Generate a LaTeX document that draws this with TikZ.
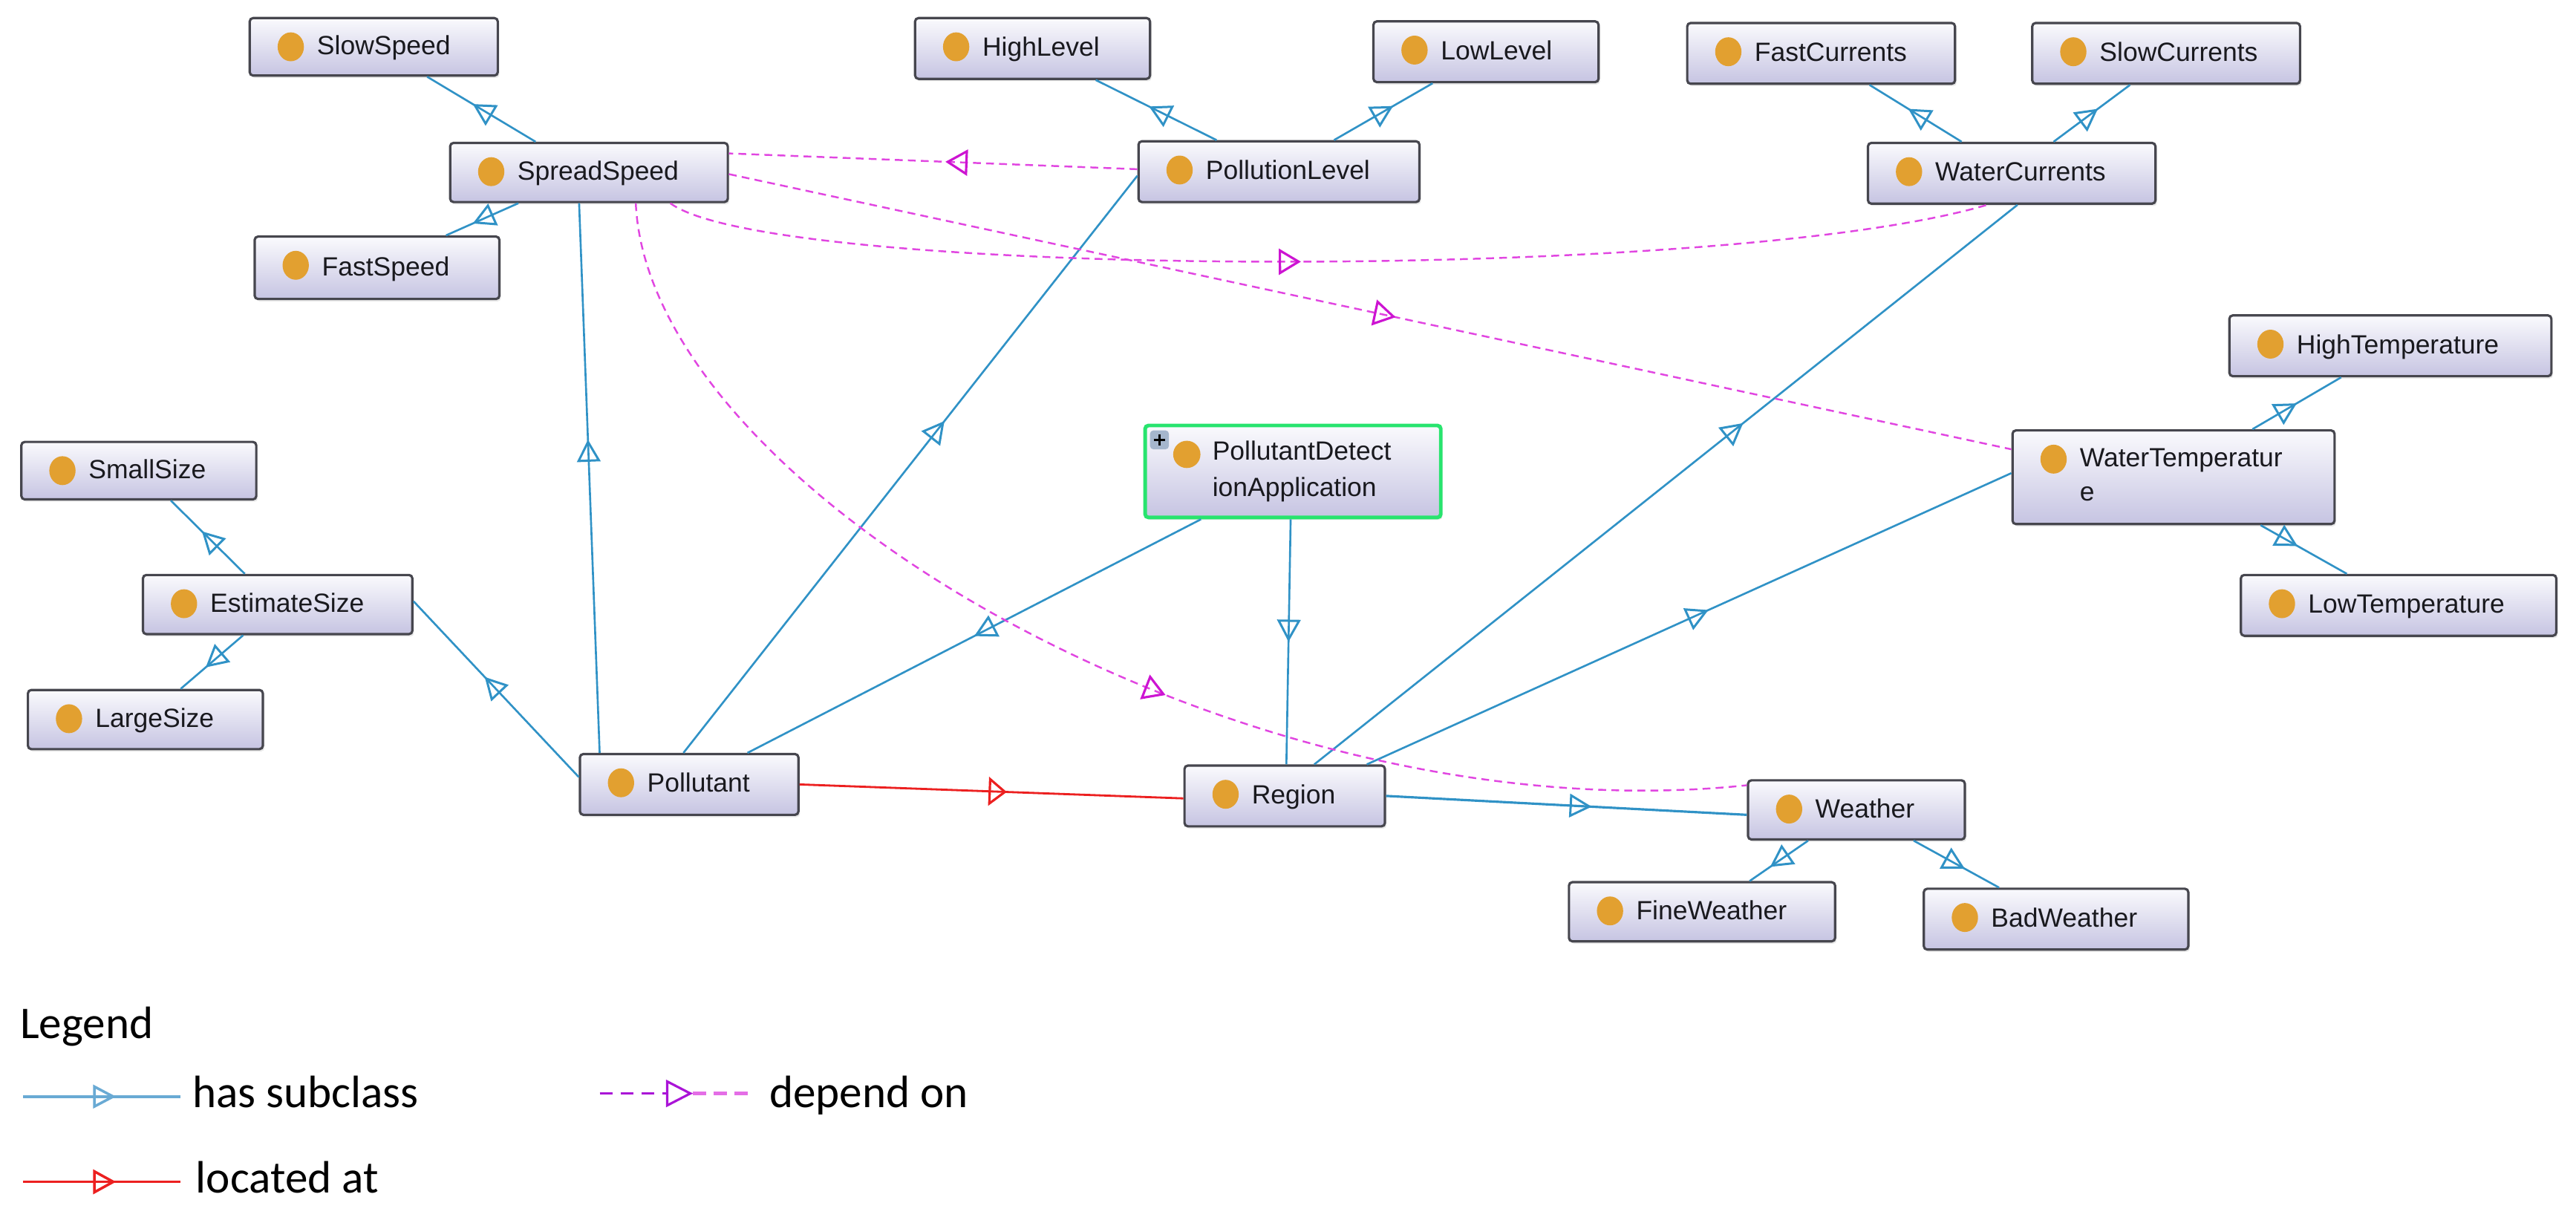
\documentclass[tikz,border=0pt]{standalone}
\usepackage{fontspec}
\setmainfont{Liberation Sans}
\newfontfamily\legendfont{Carlito}
\usetikzlibrary{arrows.meta,decorations.markings,shadows}
\newlength\uu
\setlength\uu{0.022124cm}
\definecolor{subblue}{RGB}{48,146,198}
\definecolor{legblue}{RGB}{105,170,212}
\definecolor{depmag}{RGB}{225,70,225}
\definecolor{deparrow}{RGB}{205,20,210}
\definecolor{legmagdark}{RGB}{170,20,215}
\definecolor{legmaglight}{RGB}{228,110,230}
\definecolor{locred}{RGB}{236,32,32}
\definecolor{nodetop}{RGB}{250,250,253}
\definecolor{nodebot}{RGB}{198,196,226}
\definecolor{nodeline}{RGB}{70,70,78}
\definecolor{dotc}{RGB}{226,160,48}
\definecolor{pdagreen}{RGB}{40,228,110}
\definecolor{iconbg}{RGB}{165,182,205}
\definecolor{txt}{RGB}{25,25,30}
\tikzset{
  clsbox/.style={rectangle, rounded corners=1.3pt, draw=nodeline, line width=0.9pt,
    top color=nodetop, bottom color=nodebot, inner xsep=0pt, inner ysep=0pt,
    text=txt, font=\fontsize{10.1pt}{13pt}\selectfont,
    drop shadow={opacity=0.18, shadow xshift=0.6pt, shadow yshift=-0.9pt},
    path picture={\fill[dotc] ([xshift=25\uu,yshift=-17.5\uu]path picture bounding box.north west) ellipse [x radius=8\uu, y radius=8.8\uu];}},
  oneline/.style={text height=8pt, text depth=2pt},
  twoline/.style={},
  pda/.style={draw=pdagreen, line width=1.4pt,
    path picture={
      \coordinate (pnw) at (path picture bounding box.north west);
      \fill[dotc] ([xshift=25.4\uu,yshift=-17.6\uu]pnw) circle[radius=8.3\uu];
      \fill[iconbg] ([xshift=3\uu,yshift=-3\uu]pnw) rectangle ([xshift=14.5\uu,yshift=-14.5\uu]pnw);
      \draw[black,line width=0.9pt] ([xshift=5.2\uu,yshift=-8.75\uu]pnw) -- ([xshift=12.3\uu,yshift=-8.75\uu]pnw)
        ([xshift=8.75\uu,yshift=-5.2\uu]pnw) -- ([xshift=8.75\uu,yshift=-12.3\uu]pnw);
    }},
  subedge/.style={draw=subblue, line width=0.75pt, postaction={decorate},
    decoration={markings, mark=at position #1 with {\arrow{Triangle[open, length=8.5pt, width=9pt, line width=0.85pt]}}}},
  locedge/.style={draw=locred, line width=0.8pt, postaction={decorate},
    decoration={markings, mark=at position #1 with {\arrow{Triangle[open, length=7pt, width=11pt, line width=0.9pt]}}}},
  depedge/.style={draw=depmag, line width=0.7pt, dash pattern=on 3pt off 2pt, postaction={decorate},
    decoration={markings, mark=at position #1 with {\arrow[deparrow, solid]{Triangle[open, length=8.5pt, width=10pt, line width=0.9pt]}}}},
  legtext/.style={font=\legendfont\fontsize{17.4pt}{20pt}\selectfont, inner sep=0pt, text=black, anchor=base west},
  legsub/.style={draw=legblue, line width=1pt, postaction={decorate},
    decoration={markings, mark=at position #1 with {\arrow{Triangle[open, length=8.8pt, width=9pt, line width=1pt]}}}},
  legloc/.style={draw=locred, line width=1pt, postaction={decorate},
    decoration={markings, mark=at position #1 with {\arrow{Triangle[open, length=8.8pt, width=9.4pt, line width=1pt]}}}},
}
\newcommand\clsnode[7][oneline]{%
  \node[clsbox,#1,minimum height={(#6-#4)*\uu}] (#2) at ({(#3+#5)/2},{(#4+#6)/2})
    {\makebox[\dimexpr\uu*(#5-#3)\relax][l]{\hspace*{41\uu}#7}};}
\begin{document}
\begin{tikzpicture}[x=0.022124cm, y=-0.022124cm]
\useasboundingbox (0,0) rectangle (1568,742.6);
% classes
\clsnode{SlowSpeed}{152}{11}{303}{46}{SlowSpeed}
\clsnode{SpreadSpeed}{274}{87}{443}{123}{SpreadSpeed}
\clsnode{FastSpeed}{155}{144}{304}{182}{FastSpeed}
\clsnode{HighLevel}{557}{11}{700}{48}{HighLevel}
\clsnode{LowLevel}{836}{13}{973}{50}{LowLevel}
\clsnode{PollutionLevel}{693}{86}{864}{123}{PollutionLevel}
\clsnode{FastCurrents}{1027}{14}{1190}{51}{FastCurrents}
\clsnode{SlowCurrents}{1237}{14}{1400}{51}{SlowCurrents}
\clsnode{WaterCurrents}{1137}{87}{1312}{124}{WaterCurrents}
\clsnode{HighTemperature}{1357}{192}{1553}{229}{HighTemperature}
\clsnode[twoline]{WaterTemperature}{1225}{262}{1421}{319}{\begin{tabular}{@{}l@{}}WaterTemperatur\\e\end{tabular}}
\clsnode{LowTemperature}{1364}{350}{1556}{387}{LowTemperature}
\clsnode[twoline,pda]{PDA}{697}{259}{877}{315}{\begin{tabular}{@{}l@{}}PollutantDetect\\[0.9pt]ionApplication\end{tabular}}
\clsnode{SmallSize}{13}{269}{156}{304}{SmallSize}
\clsnode{EstimateSize}{87}{350}{251}{386}{EstimateSize}
\clsnode{LargeSize}{17}{420}{160}{456}{LargeSize}
\clsnode{Pollutant}{353}{459}{486}{496}{Pollutant}
\clsnode{Region}{721}{466}{843}{503}{Region}
\clsnode{Weather}{1064}{475}{1196}{511}{Weather}
\clsnode{FineWeather}{955}{537}{1117}{573}{FineWeather}
\clsnode{BadWeather}{1171}{541}{1332}{578}{BadWeather}
% has subclass
\draw[subedge=0.58] ([xshift=-32.5\uu]SpreadSpeed.north) -- ([xshift=32.5\uu]SlowSpeed.south);
\draw[subedge=0.63] ([xshift=-43\uu]SpreadSpeed.south) -- ([xshift=42\uu]FastSpeed.north);
\draw[subedge=0.56] ([xshift=-38\uu]PollutionLevel.north) -- ([xshift=38.5\uu]HighLevel.south);
\draw[subedge=0.6] ([xshift=33.5\uu]PollutionLevel.north) -- ([xshift=-32.5\uu]LowLevel.south);
\draw[subedge=0.58] ([xshift=-30.5\uu]WaterCurrents.north) -- ([xshift=29.5\uu]FastCurrents.south);
\draw[subedge=0.58] ([xshift=25.5\uu]WaterCurrents.north) -- ([xshift=-22\uu]SlowCurrents.south);
\draw[subedge=0.5] ([xshift=48\uu]WaterTemperature.north) -- ([xshift=-30\uu]HighTemperature.south);
\draw[subedge=0.43] ([xshift=53\uu]WaterTemperature.south) -- ([xshift=-31.5\uu]LowTemperature.north);
\draw[subedge=0.58] ([xshift=-20\uu]EstimateSize.north) -- ([xshift=19.5\uu]SmallSize.south);
\draw[subedge=0.6] ([xshift=-21\uu]EstimateSize.south) -- ([xshift=21.5\uu]LargeSize.north);
\draw[subedge=0.57] ([yshift=4.5\uu]Pollutant.west) -- ([yshift=2\uu]EstimateSize.east);
\draw[subedge=0.57] ([xshift=-54.5\uu]Pollutant.north) -- ([xshift=-6\uu]SpreadSpeed.south);
\draw[subedge=0.575] ([xshift=-3.5\uu]Pollutant.north) -- ([yshift=-2.5\uu]PollutionLevel.west);
\draw[subedge=0.5] ([xshift=-56\uu]PDA.south) -- ([xshift=35.5\uu]Pollutant.north);
\draw[subedge=0.5] ([xshift=-1.4\uu]PDA.south) -- ([xshift=1\uu]Region.north);
\draw[subedge=0.61] ([xshift=18\uu]Region.north) -- ([xshift=3.5\uu]WaterCurrents.south);
\draw[subedge=0.53] ([xshift=50\uu]Region.north) -- ([yshift=2.5\uu]WaterTemperature.west);
\draw[subedge=0.57, line width=0.9pt] (Region.east) -- ([yshift=-3\uu]Weather.west);
\draw[subedge=0.65] ([xshift=-29.4\uu]Weather.south) -- ([xshift=29\uu]FineWeather.north);
\draw[subedge=0.6] ([xshift=34.8\uu]Weather.south) -- ([xshift=-34.7\uu]BadWeather.north);
% located at
\draw[locedge=0.54] (Pollutant.east) -- ([yshift=-1.5\uu]Region.west);
% depend on
\draw[depedge=0.47] ([yshift=1.5\uu]PollutionLevel.west) -- ([yshift=11.6\uu]SpreadSpeed.east);
\draw[depedge=0.48] ([xshift=49.5\uu]SpreadSpeed.south) .. controls (470,170) and (1050,172) .. ([xshift=-15\uu]WaterCurrents.south);
\draw[depedge=0.52] ([yshift=-1\uu]SpreadSpeed.east) -- ([yshift=17\uu]WaterTemperature.west);
\draw[depedge=0.56] ([xshift=28.5\uu]SpreadSpeed.south) .. controls (395,300) and (760,510) .. ([yshift=15\uu]Weather.west);
% legend
\node[legtext] (legtitle) at (12,632) {Legend};
\coordinate (lb1) at (14,667.5);
\coordinate (lb2) at (110,667.5);
\draw[legsub=0.59] (lb1) -- (lb2);
\node[legtext] (lsub) at (117,674) {has subclass};
\coordinate (ld1) at (365,665.6);
\coordinate (ldm) at (421.8,665.6);
\coordinate (ld2) at (456,665.6);
\draw[draw=legmagdark, line width=0.9pt, dash pattern=on 5pt off 3pt, -{Triangle[open, length=10.3pt, width=10.4pt, line width=0.9pt]}] (ld1) -- (ldm);
\draw[draw=legmaglight, line width=1.5pt, dash pattern=on 5pt off 3pt] (ldm) -- (ld2);
\node[legtext] (ldep) at (468,674) {depend on};
\coordinate (lr1) at (14,719.4);
\coordinate (lr2) at (110,719.4);
\draw[legloc=0.59] (lr1) -- (lr2);
\node[legtext] (lloc) at (119,726) {located at};
\end{tikzpicture}
\end{document}
